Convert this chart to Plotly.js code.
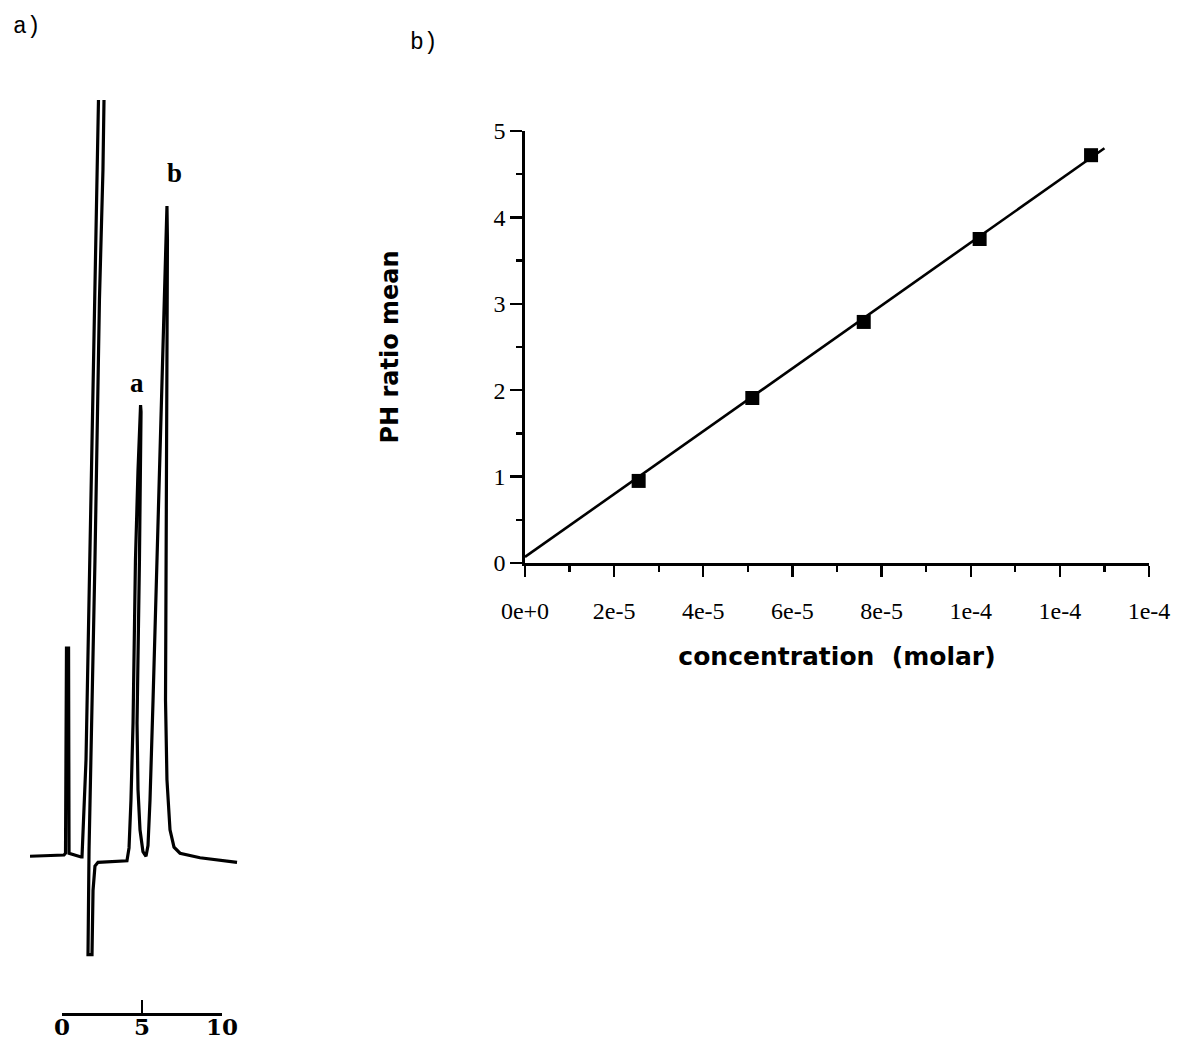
<!DOCTYPE html>
<html>
<head>
<meta charset="utf-8">
<script src="https://cdn.plot.ly/plotly-3.0.1.min.js"></script>
<style>html,body{margin:0;padding:0;background:#fff;}#chart{width:1178px;height:1039px;}</style>
</head>
<body>
<div id="chart"></div>
<script>
// ---- panel b data ----
const concentration = [2.55e-5, 5.1e-5, 7.6e-5, 1.02e-4, 1.27e-4];
const phRatioMean = [0.95, 1.91, 2.79, 3.75, 4.72];
const fitConcentration = [0, 1.3e-4];
const fitRatio = [0.07, 4.8];
const xTickVals = [0, 2e-5, 4e-5, 6e-5, 8e-5, 1e-4, 1.2e-4, 1.4e-4];
const xTickText = ['0e+0', '2e-5', '4e-5', '6e-5', '8e-5', '1e-4', '1e-4', '1e-4'];
const yTickVals = [0, 1, 2, 3, 4, 5];

// ---- panel a data (chromatogram, time in min, signal arbitrary units) ----
const chromTime = [-2, 0.125, 0.22, 0.28, 0.41, 0.44, 1.19,
  1.25, 1.5, 1.75, 2.03, 2.22, 2.28, 2.45, 2.625, 2.56, 2.34, 2.06, 1.84, 1.69, 1.625,
  1.875, 1.94, 2.06, 2.25, 4.06,
  4.19, 4.31, 4.44, 4.59, 4.75, 4.91, 4.94, 4.84, 4.69, 4.75, 4.875, 5.06, 5.25,
  5.375, 5.5, 5.69, 5.94, 6.19, 6.375, 6.56, 6.59, 6.56, 6.5, 6.47, 6.56, 6.75, 7.0, 7.375, 8.625, 10.94];
const chromSignal = [0.1, 0.26, 0.5, 27.6, 27.6, 0.5, 0,
  0, 12.8, 39.2, 73.6, 90.8, 100, 110, 100, 90.8, 73.6, 39.2, 15.9, 0.9, -12.9,
  -12.9, -4.4, -1.2, -0.7, -0.5,
  1.2, 7.5, 17.7, 39.2, 51.1, 59.7, 58.8, 39.2, 17.7, 8.9, 3.6, 0.7, 0.1,
  1.5, 7.5, 20.7, 39.2, 57.7, 73.6, 86.0, 81.5, 60.4, 39.2, 20.7, 10.2, 3.6, 1.3, 0.5, -0.1, -0.7];
const peakLabels = ['a', 'b'];
const peakLabelTime = [4.69, 7.06];
const peakLabelSignal = [62.6, 90.4];
const scaleTickVals = [0, 5, 10];
const scaleTickText = ['0', '5', '10'];

const W = 1178, H = 1039;
const px = v => v / W;
const py = v => 1 - v / H;

const serif = 'Liberation Serif, Times New Roman, serif';
const sansBold = 'DejaVu Sans, Arial, sans-serif';

const traces = [
  {
    x: fitConcentration, y: fitRatio, xaxis: 'x', yaxis: 'y',
    mode: 'lines', line: {color: '#000', width: 2.6}, showlegend: false, hoverinfo: 'skip'
  },
  {
    x: concentration, y: phRatioMean, xaxis: 'x', yaxis: 'y',
    mode: 'markers', marker: {symbol: 'square', size: 14, color: '#000'}, showlegend: false
  },
  {
    x: chromTime, y: chromSignal, xaxis: 'x2', yaxis: 'y2',
    mode: 'lines', line: {color: '#000', width: 3.2}, showlegend: false, hoverinfo: 'skip'
  },
  {
    x: scaleTickVals, y: [0, 0, 0], xaxis: 'x3', yaxis: 'y3',
    mode: 'lines', line: {color: 'rgba(0,0,0,0)', width: 0}, showlegend: false, hoverinfo: 'skip'
  }
];

const annotations = [
  {text: 'a)', xref: 'paper', yref: 'paper', x: px(11), y: py(27), xanchor: 'left', yanchor: 'middle',
   showarrow: false, font: {family: 'Liberation Mono, Courier New, monospace', size: 23, color: '#000'}},
  {text: 'b)', xref: 'paper', yref: 'paper', x: px(408), y: py(43), xanchor: 'left', yanchor: 'middle',
   showarrow: false, font: {family: 'Liberation Mono, Courier New, monospace', size: 23, color: '#000'}}
];
peakLabels.forEach((t, i) => annotations.push({
  text: '<b>' + t + '</b>', xref: 'x2', yref: 'y2', x: peakLabelTime[i], y: peakLabelSignal[i],
  showarrow: false, xanchor: 'center', yanchor: 'middle',
  font: {family: serif, size: 27, color: '#000'}
}));
scaleTickVals.forEach((v, i) => annotations.push({
  text: '<b>' + scaleTickText[i] + '</b>', xref: 'x3', yref: 'paper', x: v, y: 0,
  showarrow: false, xanchor: 'center', yanchor: 'bottom', yshift: -3,
  font: {family: 'DejaVu Serif, serif', size: 23, color: '#000'}
}));

const layout = {
  width: W, height: H,
  margin: {l: 0, r: 0, t: 0, b: 0},
  paper_bgcolor: '#fff', plot_bgcolor: 'rgba(0,0,0,0)',
  showlegend: false,
  xaxis: {
    domain: [px(525), px(1149)], anchor: 'y', range: [0, 1.4e-4],
    showgrid: false, zeroline: false, showline: true, linecolor: '#000', linewidth: 2.6,
    ticks: 'outside', ticklen: 11, tickwidth: 2.4, tickcolor: '#000',
    tickmode: 'array', tickvals: xTickVals, ticktext: xTickText, ticklabelstandoff: 14,
    minor: {tickmode: 'linear', tick0: 0, dtick: 1e-5, ticks: 'outside', ticklen: 6, tickwidth: 2.4, tickcolor: '#000', showgrid: false},
    tickfont: {family: serif, size: 24, color: '#000'},
    title: {text: '<b>concentration\u00a0\u00a0(molar)</b>', font: {family: sansBold, size: 25, color: '#000'}, standoff: 24}
  },
  yaxis: {
    domain: [py(563), py(131)], anchor: 'x', range: [0, 5],
    showgrid: false, zeroline: false, showline: true, linecolor: '#000', linewidth: 2.6,
    ticks: 'outside', ticklen: 12, tickwidth: 2.4, tickcolor: '#000',
    tickmode: 'array', tickvals: yTickVals,
    minor: {tickmode: 'linear', tick0: 0, dtick: 0.5, ticks: 'outside', ticklen: 6, tickwidth: 2.4, tickcolor: '#000', showgrid: false},
    tickfont: {family: serif, size: 24, color: '#000'},
    title: {text: '<b>PH ratio mean</b>', font: {family: sansBold, size: 24, color: '#000'}, standoff: 88}
  },
  xaxis2: {
    domain: [px(30), px(240)], anchor: 'y2', range: [-2, 11.125], visible: false
  },
  yaxis2: {
    domain: [py(963), py(100)], anchor: 'x2', range: [-14, 100], visible: false
  },
  xaxis3: {
    domain: [px(62), px(222)], anchor: 'y3', range: [0, 10],
    showgrid: false, zeroline: false, showline: true, linecolor: '#000', linewidth: 2.6,
    ticks: 'inside', ticklen: 13, tickwidth: 2.6, tickcolor: '#000',
    tickmode: 'array', tickvals: scaleTickVals, showticklabels: false
  },
  yaxis3: {
    domain: [py(1013), py(1000)], anchor: 'x3', range: [0, 1], visible: false
  },
  annotations: annotations
};

Plotly.newPlot('chart', traces, layout, {displayModeBar: false, staticPlot: true});
</script>
</body>
</html>
